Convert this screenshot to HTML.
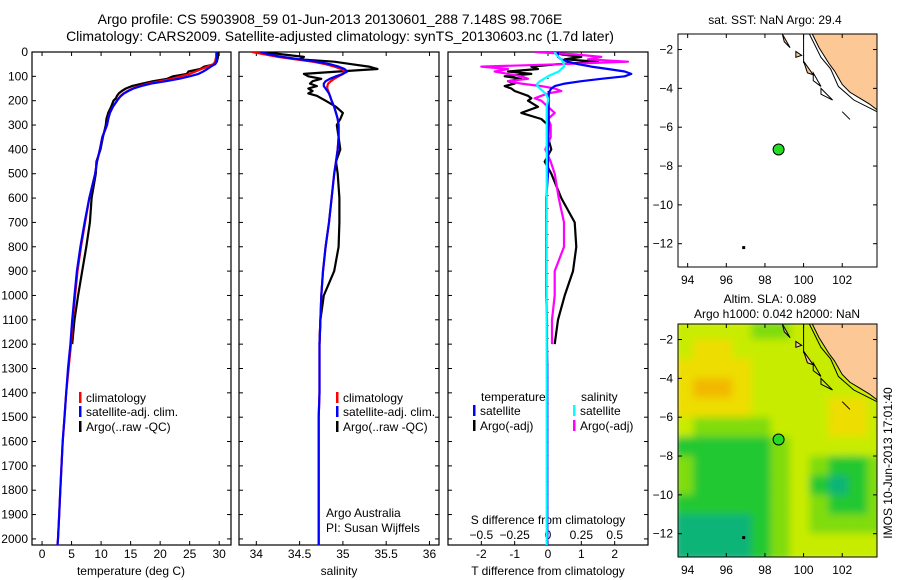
<!DOCTYPE html>
<html><head><meta charset="utf-8">
<style>
html,body{margin:0;padding:0;background:#fff;}
svg{display:block;font-family:"Liberation Sans",sans-serif;}
text{font-size:12px;fill:#000;}
</style></head>
<body>
<svg id="chart" width="900" height="580" viewBox="0 0 900 580">
<defs>
<clipPath id="c1"><rect x="32" y="52" width="199" height="493"/></clipPath>
<clipPath id="c2"><rect x="239" y="52" width="200" height="493"/></clipPath>
<clipPath id="c3"><rect x="448" y="52" width="200" height="493"/></clipPath>
<clipPath id="cm1"><rect x="678" y="34" width="199" height="233"/></clipPath>
<clipPath id="cm2"><rect x="678" y="324" width="199" height="233"/></clipPath>
<filter id="blur" x="-5%" y="-5%" width="110%" height="110%"><feGaussianBlur stdDeviation="4"/></filter>
</defs>
<text x="330" y="24" text-anchor="middle" style="font-size:14px">Argo profile: CS 5903908_59 01-Jun-2013 20130601_288 7.148S 98.706E</text>
<text x="340" y="41" text-anchor="middle" style="font-size:14px">Climatology: CARS2009. Satellite-adjusted climatology: synTS_20130603.nc (1.7d later)</text>
<g id="g"></g>
</svg>
<script>
// ---- data ----
const depths = [0,10,20,30,40,50,60,70,80,90,100,110,120,130,140,150,160,170,180,190,200,225,250,275,300,350,400,450,500,600,700,800,900,1000,1100,1200,1300,1400,1500,1600,1700,1800,1900,2000,2030];
const tempClim = [29.5,29.5,29.5,29.4,29.3,29.0,28.0,27.0,26.0,25.0,23.5,22.0,20.0,18.0,16.5,15.3,14.5,13.8,13.3,13.0,12.7,12.0,11.5,11.2,11.0,10.2,9.8,9.3,9.0,8.0,7.3,6.6,6.0,5.6,5.2,4.9,4.5,4.1,3.8,3.5,3.3,3.1,2.9,2.7,2.6];
const tempSat = [29.6,29.6,29.6,29.6,29.5,29.3,28.6,28.0,27.3,26.5,25.0,23.2,21.0,18.5,16.8,15.5,14.6,13.9,13.4,13.0,12.7,12.0,11.5,11.2,11.0,10.2,9.8,9.3,9.0,8.0,7.2,6.5,5.9,5.5,5.1,4.8,4.4,4.1,3.8,3.5,3.3,3.1,2.9,2.7,2.6];
const tempArgo = [29.8,29.8,29.8,29.7,29.6,29.3,27.5,26.8,24.8,24.5,22.2,21.2,18.8,17.0,15.2,14.2,13.5,13.0,12.7,12.5,12.1,11.7,11.2,10.9,10.8,10.3,9.9,9.2,9.1,8.4,8.1,7.5,6.8,6.1,5.5,5.1];
const salClim = [33.95,34.1,34.25,34.45,34.65,34.8,34.9,34.98,35.02,35.0,34.95,34.9,34.86,34.83,34.82,34.82,34.83,34.84,34.85,34.86,34.87,34.9,34.92,34.94,34.95,34.95,34.94,34.92,34.9,34.87,34.84,34.8,34.77,34.75,34.74,34.73,34.73,34.73,34.72,34.72,34.72,34.72,34.72,34.72,34.72];
const salSat = [34.05,34.15,34.3,34.5,34.7,34.85,34.95,35.02,35.05,35.0,34.92,34.85,34.8,34.78,34.78,34.8,34.82,34.84,34.85,34.86,34.87,34.9,34.92,34.94,34.95,34.95,34.94,34.92,34.9,34.87,34.84,34.8,34.77,34.75,34.74,34.73,34.73,34.73,34.72,34.72,34.72,34.72,34.72,34.72,34.72];
const salArgo = [34.1,34.3,34.55,34.5,34.9,35.1,35.3,35.4,34.95,34.55,34.6,34.75,34.65,34.62,34.7,34.6,34.65,34.6,34.7,34.75,34.8,34.92,35.0,34.97,34.93,34.95,34.97,34.92,34.94,34.96,34.96,34.95,34.9,34.78,34.74,34.73];
const tDiffSat = [0.3,0.3,0.3,0.4,0.6,0.9,1.3,1.8,2.3,2.5,2.3,1.6,1.0,0.5,0.2,0.1,0.05,0.03,0.02,0.02,0.02,0.02,0.02,0.02,0.02,0.0,0.0,0.0,0.0,-0.05,-0.05,-0.05,-0.05,-0.05,-0.03,-0.03,-0.02,-0.02,-0.02,-0.02,-0.02,-0.02,-0.02,-0.02,-0.02];
const sDiffSat = [0.05,0.06,0.08,0.1,0.11,0.12,0.12,0.1,0.08,0.04,0.0,-0.03,-0.06,-0.08,-0.08,-0.06,-0.04,-0.02,-0.01,0.0,0.0,-0.01,-0.01,-0.01,-0.01,-0.01,-0.01,-0.01,-0.01,-0.01,-0.01,-0.01,-0.01,-0.01,-0.01,-0.01,-0.01,-0.01,-0.01,-0.01,-0.01,-0.01,-0.01,-0.01,-0.01];
const tDiffArgo = [0.2,0.4,1.0,0.5,1.5,0.3,-0.5,-0.3,-1.2,-0.5,-1.3,-0.8,-1.2,-1.0,-1.3,-1.1,-1.0,-0.8,-0.6,-0.5,-0.6,-0.3,-0.8,-0.2,0.0,0.0,0.1,-0.1,0.1,0.4,0.8,0.85,0.75,0.5,0.3,0.2];
const sDiffArgo = [-0.1,0.2,0.4,0.3,0.6,0.1,-0.5,-0.3,-0.4,-0.3,-0.2,-0.15,-0.3,-0.2,-0.05,0.05,0.1,0.0,-0.05,-0.1,-0.05,0.0,0.05,0.0,0.02,0.02,-0.02,0.02,0.05,0.08,0.12,0.12,0.05,0.05,0.03,0.03];
const depthTicks = [0,100,200,300,400,500,600,700,800,900,1000,1100,1200,1300,1400,1500,1600,1700,1800,1900,2000];
const tempTicks = [0,5,10,15,20,25,30];
const salTicks = [34,34.5,35,35.5,36];
const tDiffTicks = [-2,-1,0,1,2];
const sDiffTicks = [-0.5,-0.25,0,0.25,0.5];
const lonTicks = [94,96,98,100,102];
const latTicks = [-2,-4,-6,-8,-10,-12];
const argoLon = [98.706];
const argoLat = [-7.148];
const slaGrid = [
[3,3,3,3,2,2,3,3,3,3,3],
[3,4,4,3,3,3,3,3,3,3,3],
[4,4,4,4,3,3,3,3,3,3,3],
[4,5,5,4,3,3,3,3,3,3,3],
[4,4,4,4,3,3,3,3,4,4,3],
[3,2,2,2,2,3,3,3,4,4,3],
[1,1,1,1,1,2,3,3,3,3,3],
[2,1,1,1,1,2,3,2,1,1,2],
[2,1,1,1,1,2,3,1,0,1,2],
[1,1,1,1,1,2,3,2,1,1,2],
[0,0,0,0,1,2,3,2,2,2,2],
[0,0,0,0,1,2,3,3,3,3,3]];
const slaColors = ["#10b478","#20c830","#80dc10","#c8ec00","#eedd00","#f2b800"];
const landLon = [100.45,100.8,101.3,101.6,102.0,102.4,102.9,103.4,103.8,103.8];
const landLat = [-1.2,-1.9,-2.7,-3.1,-3.8,-4.2,-4.5,-4.8,-5.1,-1.2];

// ---- helpers ----
const NS="http://www.w3.org/2000/svg";
const G=document.getElementById('g');
function mk(tag,attrs,parent){const e=document.createElementNS(NS,tag);for(const k in attrs)e.setAttribute(k,attrs[k]);(parent||G).appendChild(e);return e;}
const Y0=52,YB=545;
const yD=d=>Y0+(d-0)*(YB-Y0)/2025;
function linX(v0,v1,p0,p1){return v=>p0+(v-v0)*(p1-p0)/(v1-v0);}
const xT=linX(-1.7,32.0,32,231);
const xS=linX(33.8,36.11,239,439);
const xTd=linX(-3,3,448,648);
const xSd=linX(-0.75,0.75,448,648);

function frame(x,w,name){
  const r=mk('rect',{x:x,y:Y0,width:w,height:YB-Y0,fill:'none',stroke:'#000','stroke-width':1.2});
  
  
}
function profile(vals,xf,color,clip,name){
  let d='';
  vals.forEach((v,i)=>{d+=(i?'L':'M')+xf(v).toFixed(1)+' '+yD(depths[i]).toFixed(1);});
  const p=mk('path',{d:d,fill:'none',stroke:color,'stroke-width':2.2,'clip-path':'url(#'+clip+')','stroke-linejoin':'round'});
  
  
}
function xTicks(ticks,xf,y,lab,name,fmt){
  ticks.forEach(t=>{
    const x=xf(t);
    mk('line',{x1:x,x2:x,y1:YB,y2:YB-4,stroke:'#000'});
    mk('line',{x1:x,x2:x,y1:Y0,y2:Y0+4,stroke:'#000'});
    const tx=mk('text',{x:x,y:y,'text-anchor':'middle'});tx.textContent=fmt?fmt(t):String(t);
    
    
  });
}
function depthTickMarks(x0,x1){
  depthTicks.forEach(d=>{const y=yD(d);
    mk('line',{x1:x0,x2:x0+4,y1:y,y2:y,stroke:'#000'});
    mk('line',{x1:x1,x2:x1-4,y1:y,y2:y,stroke:'#000'});});
}
function legendItem(x,y,color,label,name){
  mk('rect',{x:x,y:y-10,width:2.5,height:11,fill:color});
  const t=mk('text',{x:x+7,y:y});t.textContent=label;
  
  
}
function txt(x,y,s,name,anchor){const t=mk('text',{x:x,y:y,'text-anchor':anchor||'start'});t.textContent=s;
  
  return t;}

// ---- panel 1 temperature ----
frame(32,199,'temperature-panel');
depthTickMarks(32,231);
depthTicks.forEach(d=>{const t=mk('text',{x:28,y:yD(d)+4,'text-anchor':'end'});t.textContent=d;
  
  });
xTicks(tempTicks,xT,558,'','temperature-tick-label');
txt(131,575,'temperature (deg C)','temperature-axis-title','middle');
profile(tempArgo,xT,'#000','c1','temperature-argo-line');
profile(tempClim,xT,'#f00','c1','temperature-climatology-line');
profile(tempSat,xT,'#00f','c1','temperature-satellite-line');
legendItem(79,402,'#f00','climatology','legend-climatology');
legendItem(79,416,'#00f','satellite-adj. clim.','legend-satellite');
legendItem(79,431,'#000','Argo(..raw -QC)','legend-argo');

// ---- panel 2 salinity ----
frame(239,200,'salinity-panel');
depthTickMarks(239,439);
xTicks(salTicks,xS,558,'','salinity-tick-label');
txt(339,575,'salinity','salinity-axis-title','middle');
profile(salArgo,xS,'#000','c2','salinity-argo-line');
profile(salClim,xS,'#f00','c2','salinity-climatology-line');
profile(salSat,xS,'#00f','c2','salinity-satellite-line');
legendItem(336,402,'#f00','climatology','legend-climatology-2');
legendItem(336,416,'#00f','satellite-adj. clim.','legend-satellite-2');
legendItem(336,431,'#000','Argo(..raw -QC)','legend-argo-2');
txt(326,517,'Argo Australia','argo-australia-label');
txt(326,532,'PI: Susan Wijffels','pi-label');

// ---- panel 3 differences ----
frame(448,200,'difference-panel');
depthTickMarks(448,648);
mk('line',{x1:xTd(0),x2:xTd(0),y1:Y0,y2:YB,stroke:'#000','stroke-dasharray':'1 12'});
xTicks(tDiffTicks,xTd,558,'','t-difference-tick-label');
sDiffTicks.forEach(t=>{txt(xSd(t),539,String(t).replace('-','\u2212'),'s-difference-tick-label','middle');});
txt(548,524,'S difference from climatology','s-difference-axis-title','middle');
txt(548,575,'T difference from climatology','t-difference-axis-title','middle');
profile(tDiffArgo,xTd,'#000','c3','t-difference-argo-line');
profile(sDiffArgo,xSd,'#f0f','c3','s-difference-argo-line');
profile(tDiffSat,xTd,'#00f','c3','t-difference-satellite-line');
profile(sDiffSat,xSd,'#0ff','c3','s-difference-satellite-line');
txt(481,401,'temperature','legend-temperature-heading');
txt(581,401,'salinity','legend-salinity-heading');
legendItem(473,415,'#00f','satellite','legend-t-satellite');
legendItem(473,430,'#000','Argo(-adj)','legend-t-argo');
legendItem(573,415,'#0ff','satellite','legend-s-satellite');
legendItem(573,430,'#f0f','Argo(-adj)','legend-s-argo');

// ---- maps ----
const mX=linX(93.5,103.8,678,877);
function map(top,clip,name,heat){
  const mY=linX(-1.2,-13.2,top,top+233);
  const g=mk('g',{'clip-path':'url(#'+clip+')'});
  
  
  if(heat){
    const hg=mk('g',{filter:'url(#blur)'},g);
    slaGrid.forEach((row,r)=>row.forEach((lv,c)=>{
      const cell=mk('rect',{x:mX(93.5+c)-4,y:mY(-1.2-r)-4,width:mX(94.5)-mX(93.5)+8,height:mY(-2.2)-mY(-1.2)+8,fill:slaColors[lv]},hg);
      
      
    }));
  }
  let d='';landLon.forEach((lo,i)=>{d+=(i?'L':'M')+mX(lo)+' '+mY(landLat[i]);});
  const land=mk('path',{d:d+'Z',fill:'#fcc896',stroke:'#000','stroke-width':1},g);
  
  
  mk('path',{d:`M${mX(100.3)} ${mY(-1.2)} L${mX(100.9)} ${mY(-2.4)} L${mX(101.4)} ${mY(-3.0)} L${mX(101.8)} ${mY(-3.9)} L${mX(102.6)} ${mY(-4.6)} L${mX(103.8)} ${mY(-5.2)}`,fill:'none',stroke:'#000'},g);
  mk('path',{d:`M${mX(98.9)} ${mY(-1.2)} L${mX(99.3)} ${mY(-1.9)} L${mX(99.0)} ${mY(-1.6)} Z M${mX(99.6)} ${mY(-2.1)} L${mX(99.9)} ${mY(-2.3)} L${mX(99.6)} ${mY(-2.4)} Z M${mX(100.0)} ${mY(-2.6)} L${mX(100.5)} ${mY(-3.3)} L${mX(100.2)} ${mY(-3.2)} Z`,fill:'#fcc896',stroke:'#000'},g);
  mk('path',{d:`M${mX(100.5)} ${mY(-3.2)} L${mX(100.9)} ${mY(-3.9)} L${mX(100.5)} ${mY(-3.6)} Z M${mX(100.9)} ${mY(-4.0)} L${mX(101.5)} ${mY(-4.6)} L${mX(100.9)} ${mY(-4.3)} Z M${mX(102.0)} ${mY(-5.2)} L${mX(102.4)} ${mY(-5.6)} L${mX(102.2)} ${mY(-5.4)} Z`,fill:'none',stroke:'#000'},g);
  mk('line',{x1:mX(100),x2:mX(100),y1:top,y2:mY(-2.7),stroke:'#000'},g);
  mk('rect',{x:mX(96.9)-1.5,y:mY(-12.2)-1.5,width:3,height:3,fill:'#000'},g);
  argoLon.forEach((lo,i)=>{
    const c=mk('circle',{cx:mX(lo),cy:mY(argoLat[i]),r:5.5,fill:'#22dd22',stroke:'#000','stroke-width':1},g);
    
    
  });
  const fr=mk('rect',{x:678,y:top,width:199,height:233,fill:'none',stroke:'#000'});
  
  
  lonTicks.forEach(lo=>{const x=mX(lo);
    mk('line',{x1:x,x2:x,y1:top+233,y2:top+229,stroke:'#000'});
    mk('line',{x1:x,x2:x,y1:top,y2:top+4,stroke:'#000'});
    txt(x,top+250,String(lo),'longitude-tick-label','middle');});
  latTicks.forEach(la=>{const y=mY(la);
    mk('line',{x1:678,x2:682,y1:y,y2:y,stroke:'#000'});
    mk('line',{x1:877,x2:873,y1:y,y2:y,stroke:'#000'});
    txt(673,y+4,String(la).replace('-','\u2212'),'latitude-tick-label','end');});
}
map(34,'cm1','sst-map',false);
txt(775,24,'sat. SST: NaN Argo: 29.4','sst-map-title','middle');
map(324,'cm2','sla-map',true);
txt(770,303,'Altim. SLA: 0.089','sla-map-title','middle');
txt(777,318,'Argo h1000: 0.042 h2000: NaN','sla-map-subtitle','middle');
const rt=txt(0,0,'IMOS 10-Jun-2013 17:01:40','timestamp-label','middle');
rt.setAttribute('transform','translate(892,463) rotate(-90)');
</script>
</body></html>
